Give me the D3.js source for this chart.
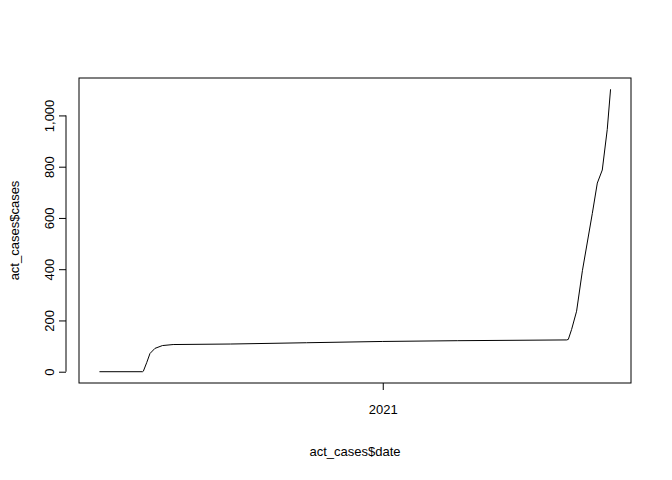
<!DOCTYPE html>
<html><head><meta charset="utf-8">
<script src="https://cdn.jsdelivr.net/npm/d3@7"></script>
<style>body{margin:0;background:#fff}text{font-family:"Liberation Sans",Arial,sans-serif;font-size:13px;fill:#000}</style>
</head><body>
<script>
// cumulative cases
var dates = ["2020-01-25","2020-03-17","2020-03-18","2020-03-22","2020-03-26","2020-04-01","2020-04-10","2020-04-23",
  "2020-07-01","2020-10-01","2021-01-01","2021-04-01","2021-08-11","2021-08-13","2021-08-17","2021-08-23",
  "2021-08-30","2021-09-11","2021-09-17","2021-09-23","2021-09-29","2021-10-03"];
var cases = [0,0,2,35,71,91,102,106,
  108,113,118,121,124,126,165,236,
  394,618,736,787,945,1102];
var yTicks = [0,200,400,600,800,1000];
var xTicks = ["2021-01-01"];
var xTickLabels = ["2021"];

var W=672,H=480, L=79,R=631,T=78,B=383;
var parse=d3.timeParse("%Y-%m-%d");
var data=dates.map(function(d,i){return {date:parse(d),v:cases[i]}});
var svg=d3.select("body").append("svg").attr("width",W).attr("height",H);

var xExt=d3.extent(data,function(d){return +d.date}), xd=(xExt[1]-xExt[0])*0.04;
var x=d3.scaleTime().domain([new Date(xExt[0]-xd),new Date(xExt[1]+xd)]).range([L,R]);
var yMax=d3.max(cases), yd=yMax*0.04;
var y=d3.scaleLinear().domain([-yd,yMax+yd]).range([B,T]);

svg.append("rect").attr("x",L).attr("y",T).attr("width",R-L).attr("height",B-T)
  .attr("fill","none").attr("stroke","#000");

svg.append("path").datum(data).attr("fill","none").attr("stroke","#000").attr("stroke-width",1)
  .attr("d",d3.line().x(function(d){return x(d.date)}).y(function(d){return y(d.v)}));

var ya=svg.append("g").attr("transform","translate("+(L-13)+",0)")
  .call(d3.axisLeft(y).tickValues(yTicks).tickSize(7).tickSizeOuter(0));
ya.select(".domain").attr("d","M0,"+y(0)+"V"+y(1000)).attr("stroke","#000");
ya.selectAll(".tick text").attr("transform",function(){return "rotate(-90)"})
  .attr("x",0).attr("y",-12).attr("dy",0).attr("text-anchor","middle").style("font-size","13px");
ya.selectAll(".tick line").attr("stroke","#000");
ya.selectAll(".tick text").each(function(){var t=d3.select(this.parentNode).attr("transform");});

var xa=svg.append("g").attr("transform","translate(0,"+B+")")
  .call(d3.axisBottom(x).tickValues(xTicks.map(parse)).tickFormat(function(d,i){return xTickLabels[i]}).tickSize(7).tickSizeOuter(0));
xa.select(".domain").remove();
xa.selectAll(".tick line").attr("stroke","#000");
xa.selectAll(".tick text").attr("y",22).style("font-size","13px");

svg.append("text").attr("x",(L+R)/2).attr("y",456).attr("text-anchor","middle").text("act_cases$date");
svg.append("text").attr("transform","translate(19,"+((T+B)/2)+") rotate(-90)").attr("text-anchor","middle").text("act_cases$cases");
</script>
</body></html>
